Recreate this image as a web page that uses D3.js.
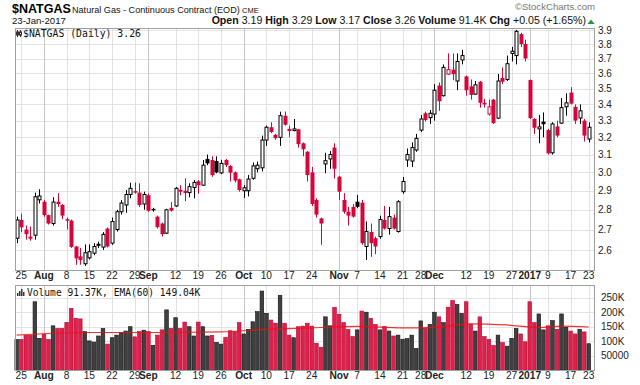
<!DOCTYPE html>
<html>
<head>
<meta charset="utf-8">
<script src="https://cdn.jsdelivr.net/npm/d3@7"></script>
<style>
  body { margin: 0; background: #fff; }
  svg { display: block; font-family: "Liberation Sans", Arial, sans-serif; }
</style>
</head>
<body>
<script>
// daily bars, 22-Jul-2016 .. 23-Jan-2017 (exchange holidays skipped)
var firstDay = "2016-07-22", lastDay = "2017-01-23";
var holidays = ["2016-09-05", "2016-11-24", "2016-12-26", "2017-01-02", "2017-01-16"];

var opens = [2.657,2.748,2.70,2.665,2.672,2.852,2.842,2.773,2.73,2.842,2.825,2.752,2.745,2.617,2.57,2.535,2.563,2.585,2.63,2.614,
  2.705,2.633,2.70,2.79,2.825,2.88,2.898,2.89,2.83,2.876,2.805,2.765,2.73,2.682,2.81,2.82,2.905,2.90,2.89,2.917,
  2.951,2.93,3.075,3.069,3.063,2.997,3.069,3.035,3.0,2.962,2.90,2.90,2.967,3.02,3.025,3.184,3.26,3.215,3.20,3.33,
  3.25,3.24,3.247,3.165,3.116,3.0,2.851,2.756,3.047,3.075,3.14,2.976,2.851,2.79,2.815,2.842,2.837,2.617,2.688,2.657,
  2.665,2.748,2.705,2.76,2.69,2.895,3.069,3.063,3.126,3.243,3.345,3.318,3.34,3.52,3.455,3.595,3.625,3.55,3.69,3.58,
  3.515,3.465,3.545,3.41,3.34,3.43,3.315,3.57,3.56,3.735,3.72,3.87,3.80,3.556,3.31,3.25,3.294,3.243,3.11,3.265,
  3.285,3.385,3.475,3.385,3.316,3.30,3.19];
var highs = [2.765,2.78,2.72,2.715,2.89,2.908,2.85,2.775,2.866,2.887,2.83,2.76,2.75,2.62,2.61,2.627,2.627,2.633,2.64,2.687,
  2.71,2.76,2.80,2.85,2.904,2.943,2.945,2.94,2.895,2.885,2.81,2.77,2.735,2.805,2.84,2.92,2.93,2.967,2.94,2.958,
  2.958,3.069,3.10,3.09,3.09,3.07,3.075,3.04,3.005,2.965,2.93,2.985,3.055,3.06,3.21,3.27,3.29,3.22,3.355,3.355,
  3.27,3.31,3.25,3.17,3.12,3.03,2.86,2.76,3.11,3.12,3.165,2.98,2.887,2.815,2.83,2.878,2.851,2.74,2.73,2.665,
  2.77,2.82,2.815,2.775,2.85,2.975,3.135,3.17,3.22,3.335,3.355,3.365,3.53,3.54,3.66,3.735,3.735,3.735,3.76,3.585,
  3.56,3.55,3.55,3.435,3.43,3.435,3.597,3.64,3.72,3.78,3.90,3.88,3.83,3.56,3.315,3.335,3.35,3.25,3.29,3.30,
  3.44,3.47,3.51,3.40,3.40,3.31,3.29];
var lows = [2.633,2.687,2.65,2.645,2.65,2.833,2.765,2.725,2.72,2.815,2.752,2.70,2.61,2.53,2.53,2.525,2.555,2.575,2.61,2.60,
  2.612,2.625,2.69,2.775,2.785,2.86,2.885,2.815,2.80,2.79,2.79,2.705,2.665,2.678,2.79,2.815,2.875,2.845,2.865,2.86,
  2.885,2.926,3.04,2.975,2.995,2.99,3.03,2.95,2.945,2.895,2.862,2.87,2.96,3.0,3.005,3.15,3.225,3.185,3.15,3.27,
  3.20,3.235,3.14,3.09,2.95,2.82,2.76,2.625,2.995,3.02,2.967,2.851,2.78,2.72,2.76,2.808,2.625,2.553,2.567,2.58,
  2.655,2.70,2.675,2.70,2.685,2.884,3.03,3.03,3.116,3.232,3.295,3.28,3.30,3.36,3.45,3.59,3.555,3.49,3.66,3.455,
  3.43,3.46,3.38,3.38,3.33,3.28,3.31,3.53,3.55,3.68,3.66,3.78,3.68,3.31,3.22,3.165,3.20,3.10,3.10,3.20,
  3.28,3.33,3.40,3.28,3.28,3.175,3.17];
var closes = [2.748,2.711,2.677,2.655,2.868,2.872,2.773,2.73,2.84,2.83,2.77,2.745,2.615,2.56,2.553,2.587,2.592,2.617,2.62,2.676,
  2.617,2.74,2.79,2.835,2.88,2.913,2.89,2.825,2.88,2.795,2.798,2.712,2.677,2.80,2.796,2.913,2.895,2.888,2.922,2.945,
  2.93,3.04,3.05,2.985,3.0,3.05,3.04,2.998,2.955,2.904,2.916,2.963,3.036,3.04,3.184,3.26,3.232,3.195,3.33,3.275,
  3.237,3.25,3.16,3.13,2.985,2.83,2.775,2.73,3.065,3.10,3.02,2.895,2.79,2.77,2.765,2.815,2.633,2.69,2.633,2.617,
  2.75,2.705,2.765,2.705,2.842,2.95,3.10,3.14,3.194,3.31,3.304,3.345,3.49,3.42,3.64,3.625,3.595,3.68,3.72,3.49,
  3.46,3.525,3.41,3.40,3.385,3.285,3.55,3.545,3.665,3.75,3.89,3.80,3.70,3.315,3.257,3.262,3.278,3.107,3.28,3.21,
  3.38,3.41,3.405,3.30,3.36,3.21,3.26];
var prevClose0 = 2.70;

// volume in thousands
var volumes = [106,106,120,120,236,110,124,106,153,144,144,165,213,179,177,133,101,97,118,144,
  90,112,121,129,135,150,115,133,138,133,86,121,139,208,144,181,144,166,150,118,
  166,150,118,120,96,90,113,136,133,164,125,141,167,202,273,196,173,162,258,162,
  121,112,150,152,162,152,93,79,184,153,217,193,164,140,116,139,204,200,179,158,
  139,150,135,118,121,107,109,121,75,170,144,158,200,184,164,217,240,227,196,236,
  159,135,184,116,106,85,121,95,83,110,144,125,98,236,164,194,139,153,171,141,
  194,148,135,125,141,132,91.37];

// EMA(60) of volume, read at a few bars (bar index, thousands)
var emaIndex = [0, 15, 30, 45, 55, 65, 75, 85, 92, 100, 108, 115, 120, 126];
var emaValues = [121, 130, 130, 132, 141, 146, 151, 146, 148, 160, 156, 147, 152, 149];

var tickDates = ["2016-07-25","2016-08-01","2016-08-08","2016-08-15","2016-08-22","2016-08-29","2016-09-01",
  "2016-09-12","2016-09-19","2016-09-26","2016-10-03","2016-10-10","2016-10-17","2016-10-24","2016-11-01",
  "2016-11-07","2016-11-14","2016-11-21","2016-11-28","2016-12-01","2016-12-12","2016-12-19","2016-12-27",
  "2017-01-03","2017-01-09","2017-01-17","2017-01-23"];
var tickLabels = ["25","Aug","8","15","22","29","Sep","12","19","26","Oct","10","17","24","Nov","7","14","21",
  "28","Dec","12","19","27","2017","9","17","23"];
var monthLabels = ["Aug","Sep","Oct","Nov","Dec","2017"];

var priceTicks = [2.6,2.7,2.8,2.9,3.0,3.1,3.2,3.3,3.4,3.5,3.6,3.7,3.8,3.9];
var volTicks = [50000,100000,150000,200000,250000];

// trading days
var fmt = d3.timeFormat("%Y-%m-%d"), parse = d3.timeParse("%Y-%m-%d");
var dates = d3.timeDay.range(parse(firstDay), d3.timeDay.offset(parse(lastDay), 1))
  .filter(function(d) { return d.getDay() > 0 && d.getDay() < 6 && holidays.indexOf(fmt(d)) < 0; })
  .map(fmt);

var bars = dates.map(function(d, i) {
  var pc = i ? closes[i-1] : prevClose0;
  return {date: d, o: opens[i], h: highs[i], l: lows[i], c: closes[i], v: volumes[i] * 1000,
          up: closes[i] >= pc, hollow: closes[i] > opens[i]};
});

var RED = "#d5043a", BLACK = "#000";

var svg = d3.select("body").append("svg").attr("width", 640).attr("height", 385);

var left = 15, right = 595,
    pTop = 28, pBot = 270,
    vTop = 285, vBot = 370;

var x = d3.scaleBand().domain(dates).range([14.4, 591.0]).padding(0);
var cx = function(d) { return x(d) + x.bandwidth() / 2; };
var y = d3.scaleLog().domain([2.506, 3.914]).range([pBot, pTop]);
var yv = d3.scaleLinear().domain([0, 293800]).range([vBot + 0.2, vTop]);

// --- header ---
svg.append("text").attr("x", 12).attr("y", 13).attr("font-size", 12.5).attr("font-weight", "bold")
  .text("$NATGAS");
svg.append("text").attr("x", 72).attr("y", 12.5).attr("font-size", 9.1).attr("fill", "#111")
  .text("Natural Gas - Continuous Contract (EOD)");
svg.append("text").attr("x", 242).attr("y", 12.5).attr("font-size", 7.5).attr("fill", "#111").text("CME");
svg.append("text").attr("x", 12).attr("y", 24).attr("font-size", 9.6).attr("fill", "#111").text("23-Jan-2017");
svg.append("text").attr("x", 595).attr("y", 10).attr("font-size", 9.6).attr("fill", "#777")
  .attr("text-anchor", "end").text("\u00a9StockCharts.com");

var ohlc = [["Open", "3.19"], ["High", "3.29"], ["Low", "3.17"], ["Close", "3.26"],
            ["Volume", "91.4K"], ["Chg", "+0.05 (+1.65%)"]];
var ht = svg.append("text").attr("x", 586).attr("y", 24).attr("font-size", 10.6)
  .attr("text-anchor", "end").attr("fill", "#111");
ohlc.forEach(function(p, i) {
  ht.append("tspan").attr("font-weight", "bold").text((i ? "  " : "") + p[0] + " ");
  ht.append("tspan").text(p[1]);
});
svg.append("path").attr("d", "M587.5,24 L591,19.5 L594.5,24 Z").attr("fill", "#1a9a3a");

// --- price panel ---
var pp = svg.append("g");
pp.append("rect").attr("x", left).attr("y", pTop).attr("width", right - left).attr("height", pBot - pTop)
  .attr("fill", "#fff");

pp.selectAll(".hg").data(priceTicks).enter().append("line")
  .attr("x1", left).attr("x2", right)
  .attr("y1", function(d) { return Math.round(y(d)) + 0.5; })
  .attr("y2", function(d) { return Math.round(y(d)) + 0.5; })
  .attr("stroke", "#e4e4e4");

function vgrid(g, y0, y1) {
  g.selectAll(".vg").data(tickDates).enter().append("line")
    .attr("x1", function(d) { return Math.round(cx(d)) + 0.5; })
    .attr("x2", function(d) { return Math.round(cx(d)) + 0.5; })
    .attr("y1", y0).attr("y2", y1)
    .attr("stroke", function(d, i) { return monthLabels.indexOf(tickLabels[i]) >= 0 ? "#c6c6c6" : "#e2e2e2"; });
}
vgrid(pp, pTop, pBot);

var candles = pp.selectAll(".c").data(bars).enter().append("g");
candles.append("line")
  .attr("x1", function(d) { return Math.round(cx(d.date)) + 0.5; })
  .attr("x2", function(d) { return Math.round(cx(d.date)) + 0.5; })
  .attr("y1", function(d) { return y(d.h); })
  .attr("y2", function(d) { return y(d.l); })
  .attr("stroke", function(d) { return d.up ? BLACK : RED; })
  .attr("stroke-width", 1);
candles.append("rect")
  .attr("x", function(d) { return Math.round(cx(d.date)) - (d.hollow ? 1 : 1.5); })
  .attr("width", function(d) { return d.hollow ? 3 : 4; })
  .attr("y", function(d) { return y(Math.max(d.o, d.c)); })
  .attr("height", function(d) { return Math.max(1.5, Math.abs(y(d.o) - y(d.c))); })
  .attr("fill", function(d) { return d.hollow ? "#fff" : (d.up ? BLACK : RED); })
  .attr("stroke", function(d) { return d.hollow ? (d.up ? BLACK : RED) : "none"; })
  .attr("stroke-width", 1);

pp.append("rect").attr("x", left + 0.5).attr("y", pTop + 0.5).attr("width", right - left - 1)
  .attr("height", pBot - pTop).attr("fill", "none").attr("stroke", "#a0a0a0");

// legend
pp.append("line").attr("x1", 17.5).attr("x2", 17.5).attr("y1", 30).attr("y2", 37).attr("stroke", "#333");
pp.append("rect").attr("x", 16).attr("y", 31.5).attr("width", 3).attr("height", 4).attr("fill", "#333");
pp.append("line").attr("x1", 20.5).attr("x2", 20.5).attr("y1", 30).attr("y2", 37).attr("stroke", "#333");
pp.append("rect").attr("x", 19.5).attr("y", 32).attr("width", 2).attr("height", 3).attr("fill", "#fff").attr("stroke", "#333");
pp.append("text").attr("x", 23).attr("y", 37).attr("font-family", "DejaVu Sans Mono").attr("font-size", 9.8)
  .attr("fill", "#111").text("$NATGAS (Daily) 3.26");

var ya = pp.append("g").attr("transform", "translate(" + right + ",0)")
  .call(d3.axisRight(y).tickValues(priceTicks).tickFormat(d3.format(".1f")).tickSize(0).tickPadding(3));
ya.select(".domain").remove();
ya.selectAll("text").attr("font-size", 10).attr("font-family", "Liberation Sans").attr("fill", "#222");

// x labels under each panel
function xlabels(yPos) {
  var ax = svg.append("g").attr("transform", "translate(0," + yPos + ")")
    .call(d3.axisBottom(x).tickValues(tickDates)
      .tickFormat(function(d) { return tickLabels[tickDates.indexOf(d)]; })
      .tickSize(0).tickPadding(0));
  ax.select(".domain").remove();
  ax.selectAll("text").attr("font-size", 10.2).attr("font-family", "Liberation Sans").attr("fill", "#222")
    .attr("font-weight", function(d) { return monthLabels.indexOf(tickLabels[tickDates.indexOf(d)]) >= 0 ? "bold" : "normal"; });
}
xlabels(272);
xlabels(372);

// --- volume panel ---
var vp = svg.append("g");
vp.selectAll(".hv").data(volTicks).enter().append("line")
  .attr("x1", left).attr("x2", right)
  .attr("y1", function(d) { return Math.round(yv(d)) + 0.5; })
  .attr("y2", function(d) { return Math.round(yv(d)) + 0.5; })
  .attr("stroke", "#e4e4e4");
vgrid(vp, vTop, vBot);

vp.selectAll(".vb").data(bars).enter().append("rect")
  .attr("x", function(d) { return x(d.date) + 0.5; })
  .attr("width", x.bandwidth() - 0.9)
  .attr("y", function(d) { return yv(d.v); })
  .attr("height", function(d) { return yv(0) - yv(d.v); })
  .attr("fill", function(d) { return d.up ? "#404040" : "#d9234d"; })
  .attr("stroke", function(d) { return d.up ? "#111" : "#c20030"; })
  .attr("stroke-width", 0.6);

vp.append("path")
  .datum(emaIndex.map(function(k, i) { return [cx(dates[k]), yv(emaValues[i] * 1000)]; }))
  .attr("d", d3.line().curve(d3.curveMonotoneX))
  .attr("fill", "none").attr("stroke", "#f01010").attr("stroke-width", 1.2).attr("stroke-opacity", 0.85);

vp.append("rect").attr("x", left + 0.5).attr("y", vTop + 0.5).attr("width", right - left - 1)
  .attr("height", vBot - vTop).attr("fill", "none").attr("stroke", "#a0a0a0");

vp.selectAll(".vi").data([3, 5, 7, 4]).enter().append("rect")
  .attr("x", function(d, i) { return 17 + i * 2; }).attr("width", 1.5)
  .attr("y", function(d) { return 296 - d; }).attr("height", function(d) { return d; }).attr("fill", "#333");
vp.append("text").attr("x", 27).attr("y", 296).attr("font-family", "DejaVu Sans Mono").attr("font-size", 9.6)
  .attr("fill", "#111").text("Volume 91.37K, EMA(60) 149.04K");

var va = vp.append("g").attr("transform", "translate(" + right + ",0)")
  .call(d3.axisRight(yv).tickValues(volTicks)
    .tickFormat(function(d) { return d < 100000 ? String(d) : (d / 1000) + "K"; })
    .tickSize(0).tickPadding(6));
va.select(".domain").remove();
va.selectAll("text").attr("font-size", 10).attr("font-family", "Liberation Sans").attr("fill", "#222");
</script>
</body>
</html>
